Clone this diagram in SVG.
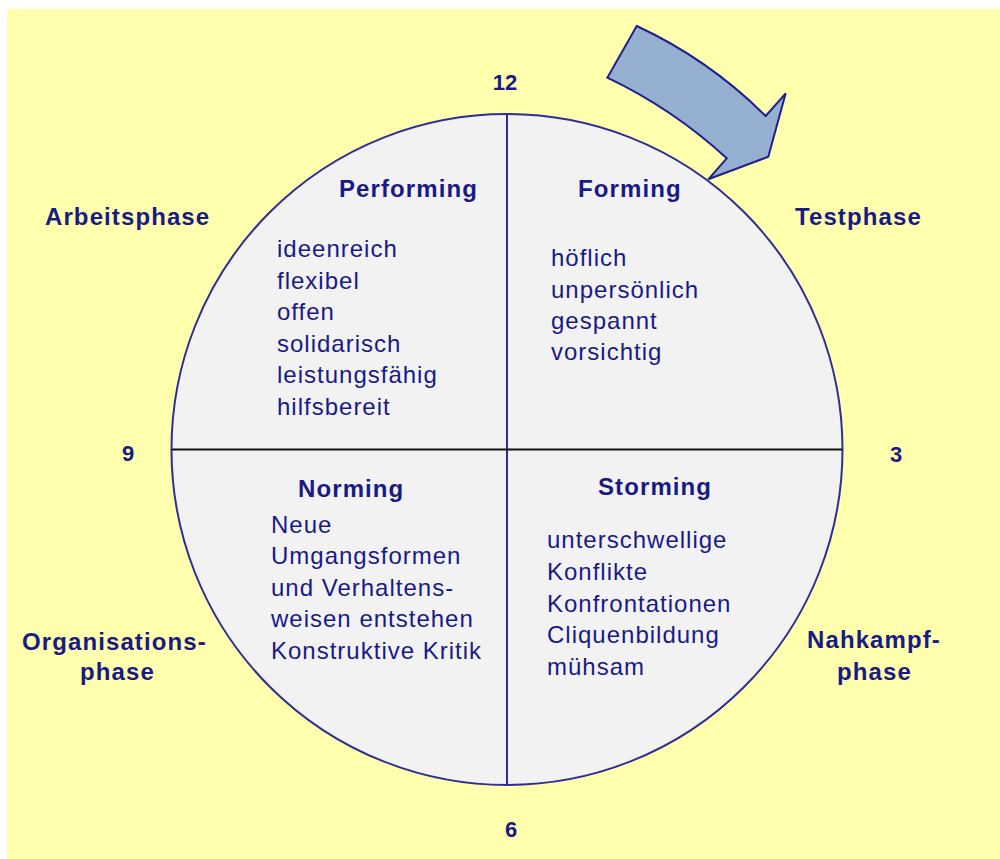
<svg xmlns="http://www.w3.org/2000/svg" width="1000" height="859" viewBox="0 0 1000 859">
<style>
text{font-family:"Liberation Sans",Arial,sans-serif;fill:#1A1A85}
.b{font-weight:bold;font-size:24px;letter-spacing:1.1px}
.t{font-size:24px;letter-spacing:1px}
.n{font-weight:bold;font-size:22px}
.m{text-anchor:middle}
</style>
<rect x="0" y="0" width="1000" height="859" fill="#FFFFFF"/>
<rect x="7" y="9" width="993" height="850" fill="#FFFFAD"/>
<g id="circle">
<circle cx="507" cy="449.5" r="335.5" fill="#F2F2F2" stroke="#2E2E96" stroke-width="2"/>
</g>
<g id="connectors">
<line x1="507" y1="114" x2="507" y2="785" stroke="#2E2E96" stroke-width="2"/>
<line x1="172" y1="449.5" x2="842" y2="449.5" stroke="#111111" stroke-width="2"/>
</g>
<g id="arrow">
<path d="M636.7,26 Q709,59.5 765.7,116 L785.7,93.3 L768.3,156.7 L708.3,179.3 L726.7,158.3 Q673,109 607.3,77.7 Z" fill="#95AFD0" stroke="#1F1F8F" stroke-width="2" stroke-linejoin="miter"/>
</g>
<g id="clock">
<text class="n m" x="505" y="90">12</text>
<text class="n m" x="896" y="462">3</text>
<text class="n m" x="511" y="837">6</text>
<text class="n m" x="128" y="461">9</text>
</g>
<g id="phases">
<text class="b" x="45" y="225">Arbeitsphase</text>
<text class="b" x="795" y="225">Testphase</text>
<text class="b" x="22" y="650">Organisations-</text>
<text class="b" x="80" y="680">phase</text>
<text class="b" x="807" y="648">Nahkampf-</text>
<text class="b" x="837" y="680">phase</text>
</g>
<g id="performing">
<text class="b" x="339" y="197">Performing</text>
<text class="t" x="277" y="257">ideenreich</text>
<text class="t" x="277" y="288.5">flexibel</text>
<text class="t" x="277" y="320">offen</text>
<text class="t" x="277" y="351.5">solidarisch</text>
<text class="t" x="277" y="383">leistungsfähig</text>
<text class="t" x="277" y="414.5">hilfsbereit</text>
</g>
<g id="forming">
<text class="b" x="578" y="197">Forming</text>
<text class="t" x="551" y="266">höflich</text>
<text class="t" x="551" y="297.5">unpersönlich</text>
<text class="t" x="551" y="329">gespannt</text>
<text class="t" x="551" y="360">vorsichtig</text>
</g>
<g id="norming">
<text class="b" x="298" y="497">Norming</text>
<text class="t" x="271" y="532.5">Neue</text>
<text class="t" x="271" y="564">Umgangsformen</text>
<text class="t" x="271" y="595.5">und Verhaltens-</text>
<text class="t" x="271" y="627">weisen entstehen</text>
<text class="t" x="271" y="658.5">Konstruktive Kritik</text>
</g>
<g id="storming">
<text class="b" x="598" y="495">Storming</text>
<text class="t" x="547" y="548">unterschwellige</text>
<text class="t" x="547" y="580">Konflikte</text>
<text class="t" x="547" y="611.5">Konfrontationen</text>
<text class="t" x="547" y="643">Cliquenbildung</text>
<text class="t" x="547" y="674.5">mühsam</text>
</g>
</svg>
